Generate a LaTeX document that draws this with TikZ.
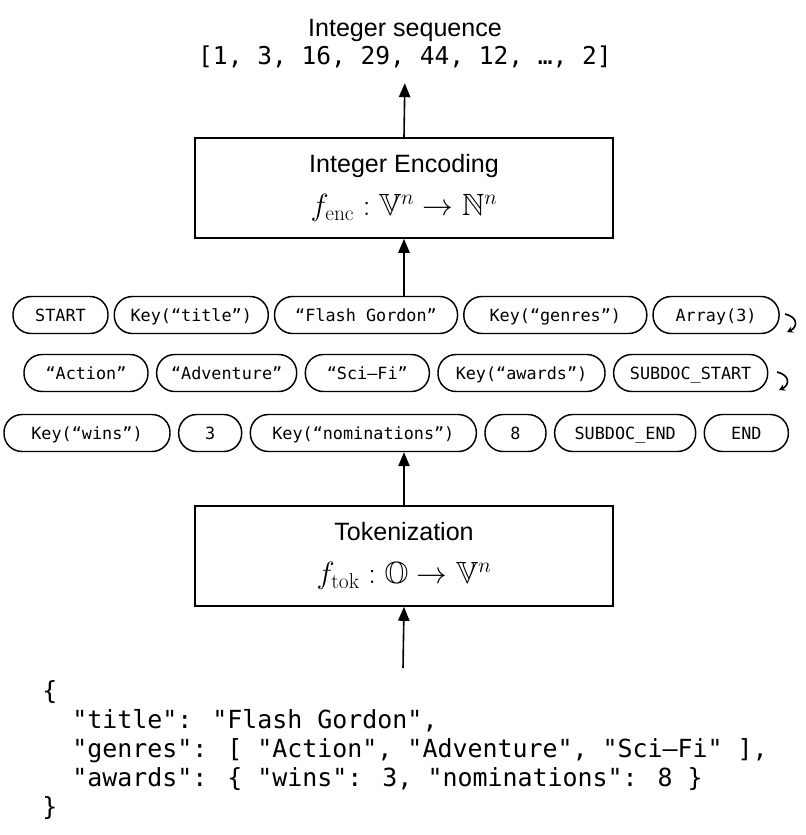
\documentclass[tikz,border=0pt]{standalone}
\usepackage{fix-cm}
\usepackage{amsmath,amssymb}
\usepackage{fontspec}
\usepackage{tikz}
\usetikzlibrary{arrows.meta,positioning}
\newfontfamily\labelfont{Liberation Sans}
\newfontfamily\codefont{DejaVu Sans Mono}
\newcommand{\mathbig}{\fontsize{23}{26}\selectfont}

\begin{document}
\begin{tikzpicture}[x=0.75pt, y=-0.75pt,
        node distance=5.4pt,
        stage/.style={rectangle, draw, line width=1.2pt, minimum width=313.5pt,
                      minimum height=75pt, align=center,
                      font=\labelfont\fontsize{18.8}{22}\selectfont},
        tok/.style={rectangle, draw, line width=1.1pt, rounded corners=13.5pt,
                    minimum height=27.75pt, minimum width=#1*0.75pt, inner sep=1pt,
                    text height=11.5pt, text depth=2.3pt,
                    font=\codefont\fontsize{12.6}{14}\selectfont},
        flow/.style={-{Triangle[length=10.5pt, width=8.5pt]}, line width=1.2pt},
        curl/.style={-{Stealth[length=4.5pt, width=5pt]}, line width=1.2pt}
    ]
        \useasboundingbox (0,0) rectangle (806,835);

        % two stages
        \node[stage] (enc) at (404,188) {Integer Encoding \\[10pt]
            {\mathbig $f_{\mathrm{enc}} : \mathbb{V}^n \to \mathbb{N}^n$}};
        \node[stage] (tokz) at (404,556) {Tokenization \\[10pt]
            {\mathbig $f_{\mathrm{tok}} : \mathbb{O} \to \mathbb{V}^n$}};

        % output
        \node[align=center, inner sep=1pt] (seq) at (405,44)
            {{\labelfont\fontsize{18.8}{22}\selectfont Integer sequence} \\[2pt]
             {\codefont\fontsize{18.4}{22}\selectfont [1, 3, 16, 29, 44, 12, …, 2]}};

        % token rows
        \node[tok=95] (start) at (60.5,315) {START};
        \node[tok=154, right=3.6pt of start] (ktitle) {Key(“title”)};
        \node[tok=183, right=3.6pt of ktitle] (flash) {“Flash Gordon”};
        \node[tok=183, right=3.6pt of flash] (kgenres) {Key(“genres”)};
        \node[tok=126, right=3.6pt of kgenres] (arr) {Array(3)};

        \node[tok=124] (action) at (86,373) {“Action”};
        \node[tok=140, right=of action] (adventure) {“Adventure”};
        \node[tok=124, right=of adventure] (scifi) {“Sci–Fi”};
        \node[tok=167, right=of scifi] (kawards) {Key(“awards”)};
        \node[tok=154, right=of kawards] (substart) {SUBDOC\_START};

        \node[tok=166] (kwins) at (87,433) {Key(“wins”)};
        \node[tok=63, right=of kwins] (three) {3};
        \node[tok=226, right=of three] (knom) {Key(“nominations”)};
        \node[tok=61, right=of knom] (eight) {8};
        \node[tok=141, right=of eight] (subend) {SUBDOC\_END};
        \node[tok=84, right=of subend] (endtok) {END};

        % row wraps
        \draw[curl] (785,314) .. controls (798,317) and (798,327) .. (787,332);
        \draw[curl] (777,372) .. controls (790,375) and (790,385) .. (779,390);

        % input document
        \node[anchor=north west, inner sep=0pt, align=left,
              font=\codefont\fontsize{18.7}{21.75}\selectfont] (doc) at (42,680)
            {\{ \\
             \phantom{xx}"title": "Flash Gordon", \\
             \phantom{xx}"genres": [ "Action", "Adventure", "Sci–Fi" ], \\
             \phantom{xx}"awards": \{ "wins": 3, "nominations": 8 \} \\
             \}};
        \coordinate (docin) at (403,668);

        \draw[flow] (docin) -- (tokz.south);
        \draw[flow] (tokz.north) -- (tokz.north |- knom.south);
        \draw[flow] (flash.north -| enc.south) -- (enc.south);
        \draw[flow, shorten >=10pt] (enc.north) -- (seq.south);
    \end{tikzpicture}
\end{document}
